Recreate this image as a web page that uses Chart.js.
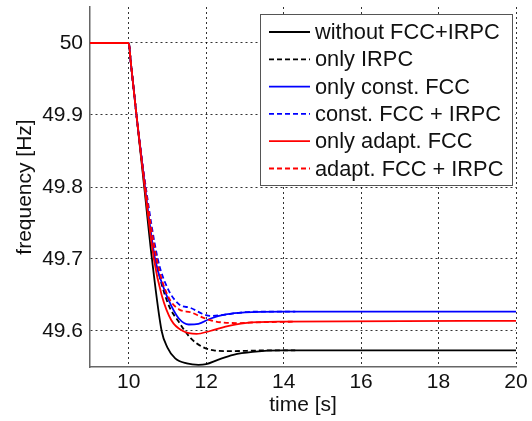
<!DOCTYPE html>
<html>
<head>
<meta charset="utf-8">
<script src="https://cdn.jsdelivr.net/npm/chart.js@4.4.0/dist/chart.umd.min.js"></script>
<style>
  html, body { margin: 0; padding: 0; background: #fff; }
  #wrap { width: 532px; height: 421px; }
</style>
</head>
<body>
<div id="wrap"><canvas id="freqChart"></canvas></div>
<script>
// series: time [s] / frequency [Hz]
const labels = ['without FCC+IRPC', 'only IRPC', 'only const. FCC', 'const. FCC + IRPC', 'only adapt. FCC', 'adapt. FCC + IRPC'];

const tNoCtrl = [9, 10, 10.05, 10.2, 10.4, 10.6, 10.85, 11.0, 11.2, 11.5, 11.8, 12.0, 12.3, 12.7, 13.2, 14, 20];
const fNoCtrl = [50, 50, 49.975, 49.9, 49.8, 49.7, 49.6, 49.577, 49.562, 49.555, 49.553, 49.554, 49.56, 49.567, 49.571, 49.573, 49.573];

const tIrpc = [9, 10, 10.05, 10.2, 10.42, 10.7, 11.0, 11.3, 11.6, 11.9, 12.2, 12.6, 13.5, 14.3];
const fIrpc = [50, 50, 49.975, 49.9, 49.8, 49.7, 49.64, 49.612, 49.59, 49.578, 49.573, 49.572, 49.573, 49.573];

const tConst = [9, 10, 10.05, 10.2, 10.42, 10.68, 10.9, 11.1, 11.3, 11.55, 11.8, 12.1, 12.5, 13, 14, 20];
const fConst = [50, 50, 49.975, 49.9, 49.8, 49.7, 49.66, 49.635, 49.617, 49.609, 49.61, 49.617, 49.623, 49.626, 49.627, 49.627];

const tConstIrpc = [9, 10, 10.05, 10.2, 10.44, 10.75, 11.0, 11.3, 11.6, 11.9, 12.1, 12.4, 12.8, 13.3, 14.3];
const fConstIrpc = [50, 50, 49.975, 49.9, 49.8, 49.7, 49.66, 49.637, 49.632, 49.624, 49.621, 49.622, 49.625, 49.627, 49.627];

const tAdapt = [9, 10, 10.05, 10.2, 10.41, 10.65, 10.85, 11.1, 11.4, 11.75, 12.1, 12.5, 13, 14, 20];
const fAdapt = [50, 50, 49.975, 49.9, 49.8, 49.7, 49.65, 49.615, 49.6, 49.596, 49.6, 49.606, 49.611, 49.613, 49.614];

const tAdaptIrpc = [9, 10, 10.05, 10.2, 10.43, 10.72, 11.0, 11.3, 11.6, 11.9, 12.1, 12.4, 12.8, 13.3, 14.3];
const fAdaptIrpc = [50, 50, 49.975, 49.9, 49.8, 49.7, 49.65, 49.63, 49.626, 49.619, 49.615, 49.612, 49.611, 49.612, 49.613];

const xTicks = [10, 12, 14, 16, 18, 20];
const yTicks = [49.6, 49.7, 49.8, 49.9, 50];

const toPoints = (ts, fs) => ts.map((t, i) => ({ x: t, y: fs[i] }));

const FONT = '"Liberation Sans", Arial, sans-serif';
const DASH = [5, 3];

function series(i, ts, fs, color, dashed, order) {
  return {
    label: labels[i],
    data: toPoints(ts, fs),
    borderColor: color,
    backgroundColor: color,
    borderWidth: 1.8,
    borderDash: dashed ? DASH : [],
    pointRadius: 0,
    cubicInterpolationMode: 'monotone',
    fill: false,
    order: order
  };
}

// legend box drawn inside the plot, top right
const boxLegend = {
  id: 'boxLegend',
  afterDatasetsDraw(chart) {
    const { ctx, chartArea } = chart;
    const w = 252, h = 171;
    const x0 = chartArea.right - w - 4;
    const y0 = chartArea.top + 7;
    ctx.save();
    ctx.fillStyle = '#fff';
    ctx.fillRect(x0, y0, w, h);
    ctx.strokeStyle = '#555';
    ctx.lineWidth = 1;
    ctx.strokeRect(x0 + 0.5, y0 + 0.5, w, h);
    ctx.font = '21.8px ' + FONT;
    ctx.textBaseline = 'middle';
    chart.data.datasets.forEach((ds, i) => {
      const y = y0 + 18 + i * 27.3;
      ctx.strokeStyle = ds.borderColor;
      ctx.lineWidth = 1.8;
      ctx.setLineDash(ds.borderDash);
      ctx.beginPath();
      ctx.moveTo(x0 + 9, y);
      ctx.lineTo(x0 + 50, y);
      ctx.stroke();
      ctx.setLineDash([]);
      ctx.fillStyle = '#111';
      ctx.fillText(ds.label, x0 + 55, y + 1);
    });
    ctx.restore();
  }
};

const ctx = document.getElementById('freqChart').getContext('2d');
new Chart(ctx, {
  type: 'line',
  data: {
    datasets: [
      series(0, tNoCtrl, fNoCtrl, '#000000', false, 6),
      series(1, tIrpc, fIrpc, '#000000', true, 5),
      series(2, tConst, fConst, '#0000ff', false, 4),
      series(3, tConstIrpc, fConstIrpc, '#0000ff', true, 3),
      series(4, tAdapt, fAdapt, '#ff0000', false, 2),
      series(5, tAdaptIrpc, fAdaptIrpc, '#ff0000', true, 1)
    ]
  },
  options: {
    responsive: true,
    maintainAspectRatio: false,
    animation: false,
    layout: { padding: { top: 7, right: 16, left: 0, bottom: 0 } },
    plugins: {
      legend: { display: false },
      tooltip: { enabled: false }
    },
    scales: {
      x: {
        type: 'linear',
        min: 9,
        max: 20,
        afterBuildTicks: axis => { axis.ticks = xTicks.map(v => ({ value: v })); },
        afterFit: axis => { axis.height = 54; axis.paddingLeft = 0; axis.paddingRight = 0; },
        ticks: {
          color: '#111',
          font: { family: FONT, size: 21 },
          padding: 3,
          maxRotation: 0,
          callback: v => String(v)
        },
        grid: {
          color: 'rgba(0,0,0,0.8)',
          lineWidth: 1,
          drawTicks: false
        },
        border: { display: true, color: '#666', width: 1.5, dash: [2, 3] },
        title: {
          display: true,
          text: 'time [s]',
          color: '#111',
          font: { family: FONT, size: 21 },
          padding: { top: 0, bottom: 3 }
        }
      },
      y: {
        type: 'linear',
        min: 49.55,
        max: 50.05,
        afterBuildTicks: axis => { axis.ticks = yTicks.map(v => ({ value: v })); },
        afterFit: axis => { axis.width = 90; axis.paddingTop = 0; axis.paddingBottom = 0; },
        ticks: {
          color: '#111',
          font: { family: FONT, size: 21 },
          padding: 7,
          callback: v => String(Math.round(v * 10) / 10)
        },
        grid: {
          color: 'rgba(0,0,0,0.8)',
          lineWidth: 1,
          drawTicks: false
        },
        border: { display: true, color: '#666', width: 1.5, dash: [2, 3] },
        title: {
          display: true,
          text: 'frequency [Hz]',
          color: '#111',
          font: { family: FONT, size: 21 },
          padding: { top: 13, bottom: 0 }
        }
      }
    }
  },
  plugins: [boxLegend]
});
</script>
</body>
</html>
